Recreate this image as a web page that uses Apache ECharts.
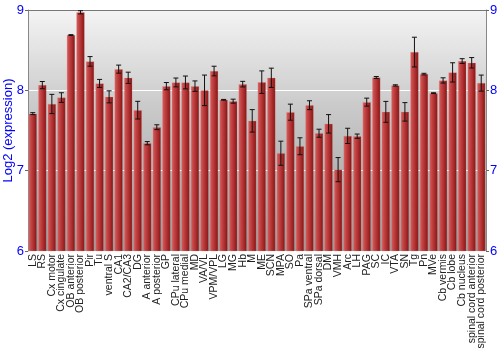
<!DOCTYPE html>
<html><head><meta charset="utf-8">
<script src="https://cdn.jsdelivr.net/npm/echarts@6/dist/echarts.min.js"></script>
<style>html,body{margin:0;padding:0;background:#fff}#c{width:500px;height:350px}</style>
</head><body><div id="c"></div>
<script>
const categories = ["LS","RS","Cx motor","Cx cingulate","OB anterior","OB posterior","Pir","Tu","ventral S","CA1","CA2/CA3","DG","A anterior","A posterior","GP","CPu lateral","CPu medial","MD","VA/VL","VPM/VPL","LG","MG","Hb","M","ME","SCN","MPA","SO","Pa","SPa ventral","SPa dorsal","DM","VMH","Arc","LH","PAG","SC","IC","VTA","SN","Tg","Pn","MVe","Cb vermis","Cb lobe","Cb nucleus","spinal cord anterior","spinal cord posterior"];
const values = [7.71,8.065,7.83,7.91,8.688,8.971,8.36,8.086,7.919,8.264,8.156,7.753,7.342,7.541,8.052,8.098,8.098,8.052,8.0,8.24,7.882,7.865,8.077,7.62,8.102,8.156,7.217,7.728,7.304,7.815,7.466,7.583,7.013,7.433,7.429,7.853,8.16,7.732,8.061,7.732,8.476,8.202,7.965,8.123,8.223,8.364,8.343,8.09];
const errors = [0.012,0.045,0.12,0.06,0.005,0.02,0.06,0.05,0.075,0.05,0.07,0.11,0.02,0.03,0.045,0.055,0.08,0.065,0.19,0.06,0.005,0.025,0.035,0.14,0.14,0.12,0.15,0.1,0.105,0.055,0.05,0.115,0.15,0.095,0.027,0.05,0.012,0.13,0.008,0.115,0.185,0.01,0.005,0.033,0.12,0.03,0.065,0.1];
const yTicks = [6,7,8,9];

const chart = echarts.init(document.getElementById('c'), null, {renderer:'canvas'});
const errData = values.map((v,i)=>[i, v-errors[i], v+errors[i]]);
const blue = '#0000ff';
const ff = 'Liberation Sans, Arial, sans-serif';
chart.setOption({
  animation:false,
  grid:{left:28,right:14,top:10,bottom:99,show:true,borderWidth:0,containLabel:false,outerBoundsMode:'none',
    backgroundColor:{type:'linear',x:0,y:0,x2:0,y2:1,colorStops:[{offset:0,color:'#f4f4f4'},{offset:0.4,color:'#cacaca'},{offset:1,color:'#9a9a9a'}]}},
  xAxis:[{type:'category',data:categories,
    axisLine:{show:false},axisTick:{show:false},
    axisLabel:{rotate:90,interval:0,fontSize:10.5,color:'#222',fontFamily:ff,margin:3}},
    {type:'category',position:'top',data:categories,axisLine:{show:true,lineStyle:{color:'#777',width:1}},axisTick:{show:false},axisLabel:{show:false}}],
  yAxis:[{type:'value',min:6,max:9,interval:1,position:'left',
    name:'Log2 (expression)',nameLocation:'middle',nameGap:13,nameMoveOverlap:false,
    nameTextStyle:{color:blue,fontSize:13,fontFamily:ff},
    axisLine:{show:true,lineStyle:{color:'#888'}},axisTick:{show:true,length:3,lineStyle:{color:'#666'}},
    axisLabel:{color:blue,fontSize:13,margin:4,fontFamily:ff,
      formatter:v=>yTicks.includes(v)?String(v):''},
    splitLine:{show:true,lineStyle:{color:'#ffffff',width:1}}},
   {type:'value',min:6,max:9,interval:1,position:'right',
    axisLine:{show:true,lineStyle:{color:'#888'}},axisTick:{show:true,length:3,lineStyle:{color:'#666'}},
    axisLabel:{color:blue,fontSize:13,margin:4,fontFamily:ff,
      formatter:v=>yTicks.includes(v)?String(v):''},
    splitLine:{show:false}}],
  series:[
    {type:'bar',data:values,barCategoryGap:'14%',
     itemStyle:{color:{type:'linear',x:0,y:0,x2:1,y2:0,colorStops:[{offset:0,color:'#d86060'},{offset:0.35,color:'#c04040'},{offset:0.75,color:'#a02424'},{offset:1,color:'#7a1414'}]},
       borderColor:'rgba(230,140,140,0.5)',borderWidth:0.5}},
    {type:'custom',data:errData,z:5,
     renderItem:(params,api)=>{
       const x=api.value(0);
       const lo=api.coord([x,api.value(1)]);
       const hi=api.coord([x,api.value(2)]);
       const w=2.5;
       const st={stroke:'#111',lineWidth:1};
       return {type:'group',children:[
         {type:'line',shape:{x1:lo[0],y1:lo[1],x2:hi[0],y2:hi[1]},style:st},
         {type:'line',shape:{x1:lo[0]-w,y1:lo[1],x2:lo[0]+w,y2:lo[1]},style:st},
         {type:'line',shape:{x1:hi[0]-w,y1:hi[1],x2:hi[0]+w,y2:hi[1]},style:st}]};
     }}
  ]
});
</script></body></html>
